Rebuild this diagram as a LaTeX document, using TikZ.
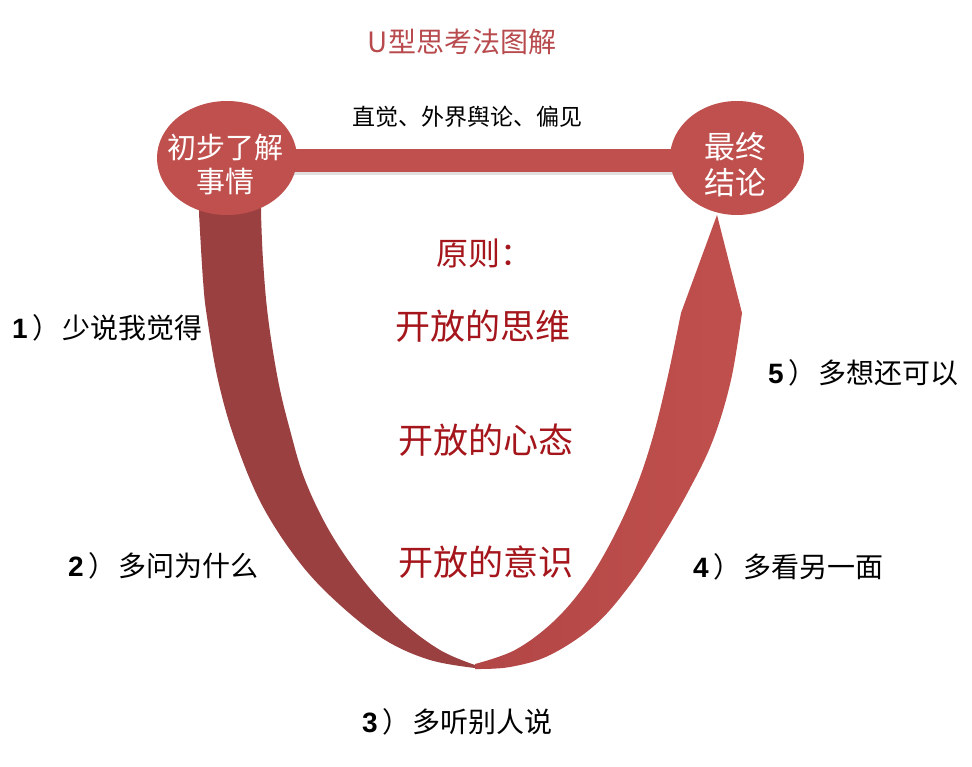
\documentclass[tikz,border=0pt]{standalone}
\usepackage{fontspec}
\setmainfont{Noto Sans CJK SC}
\newfontfamily\digitfont{Liberation Sans}
\usetikzlibrary{shapes.geometric}
\pgfdeclarelayer{background}
\pgfdeclarelayer{canvas}
\pgfsetlayers{canvas,background,main}
\definecolor{ured}{RGB}{192,80,77}
\definecolor{udark}{RGB}{155,64,65}
\definecolor{ulightA}{RGB}{178,70,70}
\definecolor{ptext}{RGB}{165,22,28}
\definecolor{ttl}{RGB}{184,74,78}
\newcommand{\fsz}[1]{\fontsize{#1}{#1}\selectfont}
\newcommand{\tipnum}[1]{{\digitfont\bfseries #1}\hspace{5pt}）\hspace{2pt}}
\begin{document}
\begin{tikzpicture}[x=1pt,y=-1pt,
  circ/.style={ellipse, fill=ured, inner sep=0pt, minimum height=114pt},
  ctext/.style={text=white, align=center, inner sep=0pt},
  principle/.style={text=ptext, font=\fsz{35}, inner sep=0pt},
  tiplabel/.style={font=\fsz{28}, anchor=west, inner sep=0pt},
  barline/.style={line width=23pt, ured},
  barshadow/.style={line width=23pt, black, opacity=0.12}]
\begin{pgfonlayer}{canvas}
\fill[white] (0,0) rectangle (972,767);
\end{pgfonlayer}
\useasboundingbox (0,0) rectangle (972,767);

% circles
\node[circ, minimum width=140pt] (lc) at (227,158) {};
\node[circ, minimum width=134pt] (rc) at (737,158) {};
\node[ctext, font=\fsz{29}] (lct) at (225,165) {初步了解\\[5pt]事情};
\node[ctext, font=\fsz{31}] (rct) at (735,165) {最终\\[5pt]结论};

\begin{pgfonlayer}{background}
  % bar between circles
  \draw[barshadow] ([yshift=-6pt]lc.center) -- ([yshift=-6pt]rc.center);
  \draw[barline] ([yshift=-2.5pt]lc.center) -- ([yshift=-2.5pt]rc.center);
  % dark left band
  \fill[udark]
    (199,200) -- plot[smooth, tension=0.6] coordinates {(199,213) (203,280) (207,317) (218,380) (235,440) (262,505) (300,563) (340,605) (385,640) (430,660) (475,668)}
    -- plot[smooth, tension=0.6] coordinates {(475,665) (440,650) (400,620) (363,580) (330,532) (305,480) (290,430) (278,380) (268,317) (263,260) (261,213)}
    -- (261,200) -- cycle;
  % light right band with arrow tip
  \shade[left color=ulightA, right color=ured]
    plot[smooth, tension=0.6] coordinates {(475,664) (515,650) (553,622) (585,585) (612,540) (635,490) (652,440) (667,380) (681,313)}
    -- (717,215) -- (742,313)
    -- plot[smooth, tension=0.6] coordinates {(742,313) (731,380) (713,440) (689,490) (660,540) (630,585) (595,625) (550,655) (510,667) (475,669)}
    -- cycle;
\end{pgfonlayer}

% title and top text
\node[text=ttl, font=\fsz{28}, inner sep=0pt] (title) at (462,42) {U型思考法图解};
\node[font=\fsz{23}, inner sep=0pt] (top) at (467,117) {直觉、外界舆论、偏见};

% principles
\node[text=ptext, font=\fsz{32}, anchor=west, inner sep=0pt] (yz) at (436,253) {原则：};
\node[principle] (p1) at (483,326) {开放的思维};
\node[principle] (p2) at (486,440) {开放的心态};
\node[principle] (p3) at (486,562) {开放的意识};

% tips
\node[tiplabel] (t1) at (12,328) {\tipnum{1}少说我觉得};
\node[tiplabel] (t2) at (68,566) {\tipnum{2}多问为什么};
\node[tiplabel] (t3) at (362,722) {\tipnum{3}多听别人说};
\node[tiplabel] (t4) at (693,567) {\tipnum{4}多看另一面};
\node[tiplabel] (t5) at (768,373) {\tipnum{5}多想还可以};
\end{tikzpicture}
\end{document}
